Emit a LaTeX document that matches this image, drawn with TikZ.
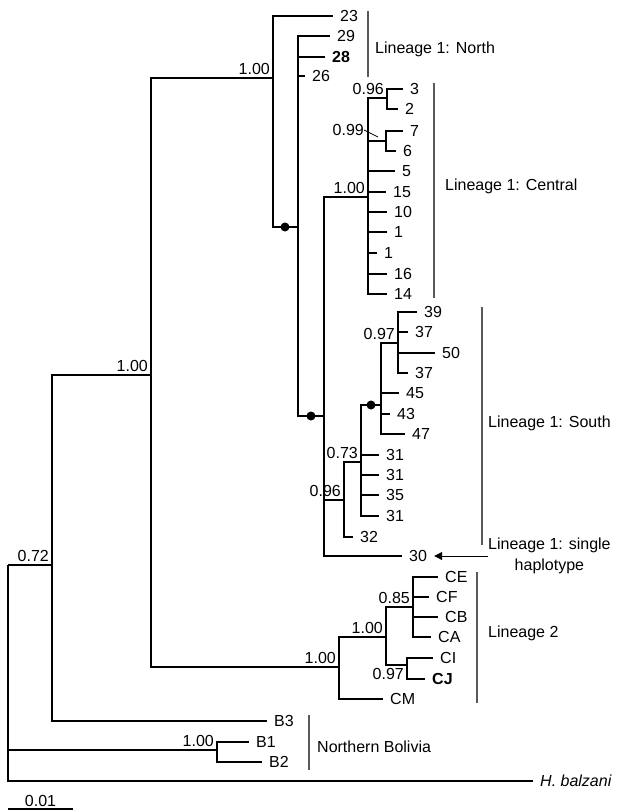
\documentclass[tikz,border=0pt]{standalone}
\usepackage{fontspec}
\setmainfont{Liberation Sans}
\usetikzlibrary{arrows.meta}

\tikzset{
  br/.style={line width=1.8pt},
  bar/.style={line width=1.1pt, black!65},
  tip/.style={anchor=west, inner sep=0pt, xshift=7pt, text height=11.5pt, text depth=0pt},
  pp/.style={inner sep=3pt, text height=11.5pt, text depth=0pt},
  lab/.style={anchor=west, inner sep=0pt, text height=11.5pt, text depth=0pt},
  dot/.style={circle, fill, inner sep=0pt, minimum size=9pt},
}

\begin{document}
\begin{tikzpicture}[x=1pt, y=-1pt, font=\fontsize{16}{21}\selectfont]
  \useasboundingbox (0,0) rectangle (616,810);
  % Internal nodes
  \coordinate (root)  at (8,565);
  \coordinate (n072)  at (52,565);
  \coordinate (n100a) at (151,375);
  \coordinate (nN)    at (273,78);
  \coordinate (ndot)  at (298,227);
  \coordinate (nS0)   at (324,416);
  \coordinate (nC)    at (368,197);
  \coordinate (n096a) at (387,98);
  \coordinate (n099)  at (386,141);
  \coordinate (n096b) at (344,500);
  \coordinate (n073)  at (361,462);
  \coordinate (ndot2) at (381,405);
  \coordinate (n097)  at (398,343);
  \coordinate (nL2)   at (339,667);
  \coordinate (n100c) at (386,637);
  \coordinate (n085)  at (413,607);
  \coordinate (n097b) at (407,665);
  \coordinate (nNB)   at (217,750);
  % Branches between internal nodes
  \foreach \p/\c in {root/n072, root/nNB, n072/n100a, n100a/nN, n100a/nL2,
      nN/ndot, ndot/nS0, nS0/nC, nS0/n096b, nC/n096a, nC/n099, n096b/n073,
      n073/ndot2, ndot2/n097, nL2/n100c, n100c/n085, n100c/n097b}
    \draw[br] (\p) |- (\c);
  % Terminal branches and labels
  \foreach \p/\t/\x/\y/\lab in {
      nN/t23/333/16/23, ndot/t29/330/36/29, ndot/t28/325/57/{\textbf{28}},
      ndot/t26/305/76/26, n096a/t3/403/89/3, n096a/t2/398/109/2,
      n099/t7/403/131/7, n099/t6/396/151/6, nC/t5/395/171/5,
      nC/t15/386/192/15, nC/t10/387/212/10, nC/t1a/387/232/1,
      nC/t1b/377/253/1, nC/t16/387/274/16, nC/t14/387/294/14,
      n097/t39/417/312/39, n097/t37a/408/332/37, n097/t50/435/353/50,
      n097/t37b/408/373/37, ndot2/t45/399/393/45, ndot2/t43/390/414/43,
      ndot2/t47/405/434/47, n073/t31a/379/455/31, n073/t31b/379/475/31,
      n073/t35/379/495/35, n073/t31c/379/516/31, n096b/t32/353/537/32,
      nS0/t30/402/556/30, n085/tCE/438/577/CE, n085/tCF/429/597/CF,
      n085/tCB/438/617/CB, n085/tCA/431/637/CA, n097b/tCI/433/658/CI,
      n097b/tCJ/425/679/{\textbf{CJ}}, nL2/tCM/383/699/CM,
      n072/tB3/267/721/B3, nNB/tB1/249/742/B1, nNB/tB2/262/762/B2,
      root/tHb/533/781/{\textit{H. balzani}}} {
    \coordinate (\t) at (\x,\y);
    \draw[br] (\p) |- (\t);
    \node[tip] (l\t) at (\t) {\lab};
  }
  % Posterior probabilities
  \foreach \n/\v in {n072/0.72, n100a/1.00, nN/1.00, nC/1.00, n096a/0.96,
      n097/0.97, n073/0.73, n096b/0.96, nL2/1.00, n100c/1.00, n085/0.85,
      nNB/1.00}
    \node[pp, above left] (s\n) at (\n) {\v};
  \node[pp, below left] (sn097b) at (n097b) {0.97};
  \node[pp, anchor=east, inner sep=0pt] (sn099) at (364,130) {0.99};
  \coordinate (p099) at (378,137);
  \draw[line width=0.8pt] (sn099.east) -- (p099);
  % Dots
  \node[dot] (d1) at (285,227) {};
  \node[dot] (d2) at (311,416) {};
  \node[dot] (d3) at (371,405) {};
  % Clade bars
  \draw[bar] (368,11) -- (368,77);
  \draw[bar] (434,83) -- (434,298);
  \draw[bar] (482,307) -- (482,545);
  \draw[bar] (477,572) -- (477,703);
  \draw[bar] (309,715) -- (309,770);
  % Clade labels
  \node[lab] (north) at (375,48) {Lineage 1: North};
  \node[lab] (central) at (445,185) {Lineage 1: Central};
  \node[lab] (south) at (488,422) {Lineage 1: South};
  \node[anchor=west, inner sep=0pt, align=center] (single) at (488,556)
    {Lineage 1: single\\haplotype};
  \node[lab] (lin2) at (488,632) {Lineage 2};
  \node[lab] (nbol) at (317,747) {Northern Bolivia};
  \draw[line width=1pt, -{Triangle[length=8pt,width=8pt]}, shorten >=7pt]
    (single.west) -- (lt30.east);
  % Scale bar
  \coordinate (sb1) at (8,809);
  \coordinate (sb2) at (73,809);
  \draw[br] (sb1) -- node[pp, above, inner sep=2pt] (sc) {0.01} (sb2);
\end{tikzpicture}
\end{document}
